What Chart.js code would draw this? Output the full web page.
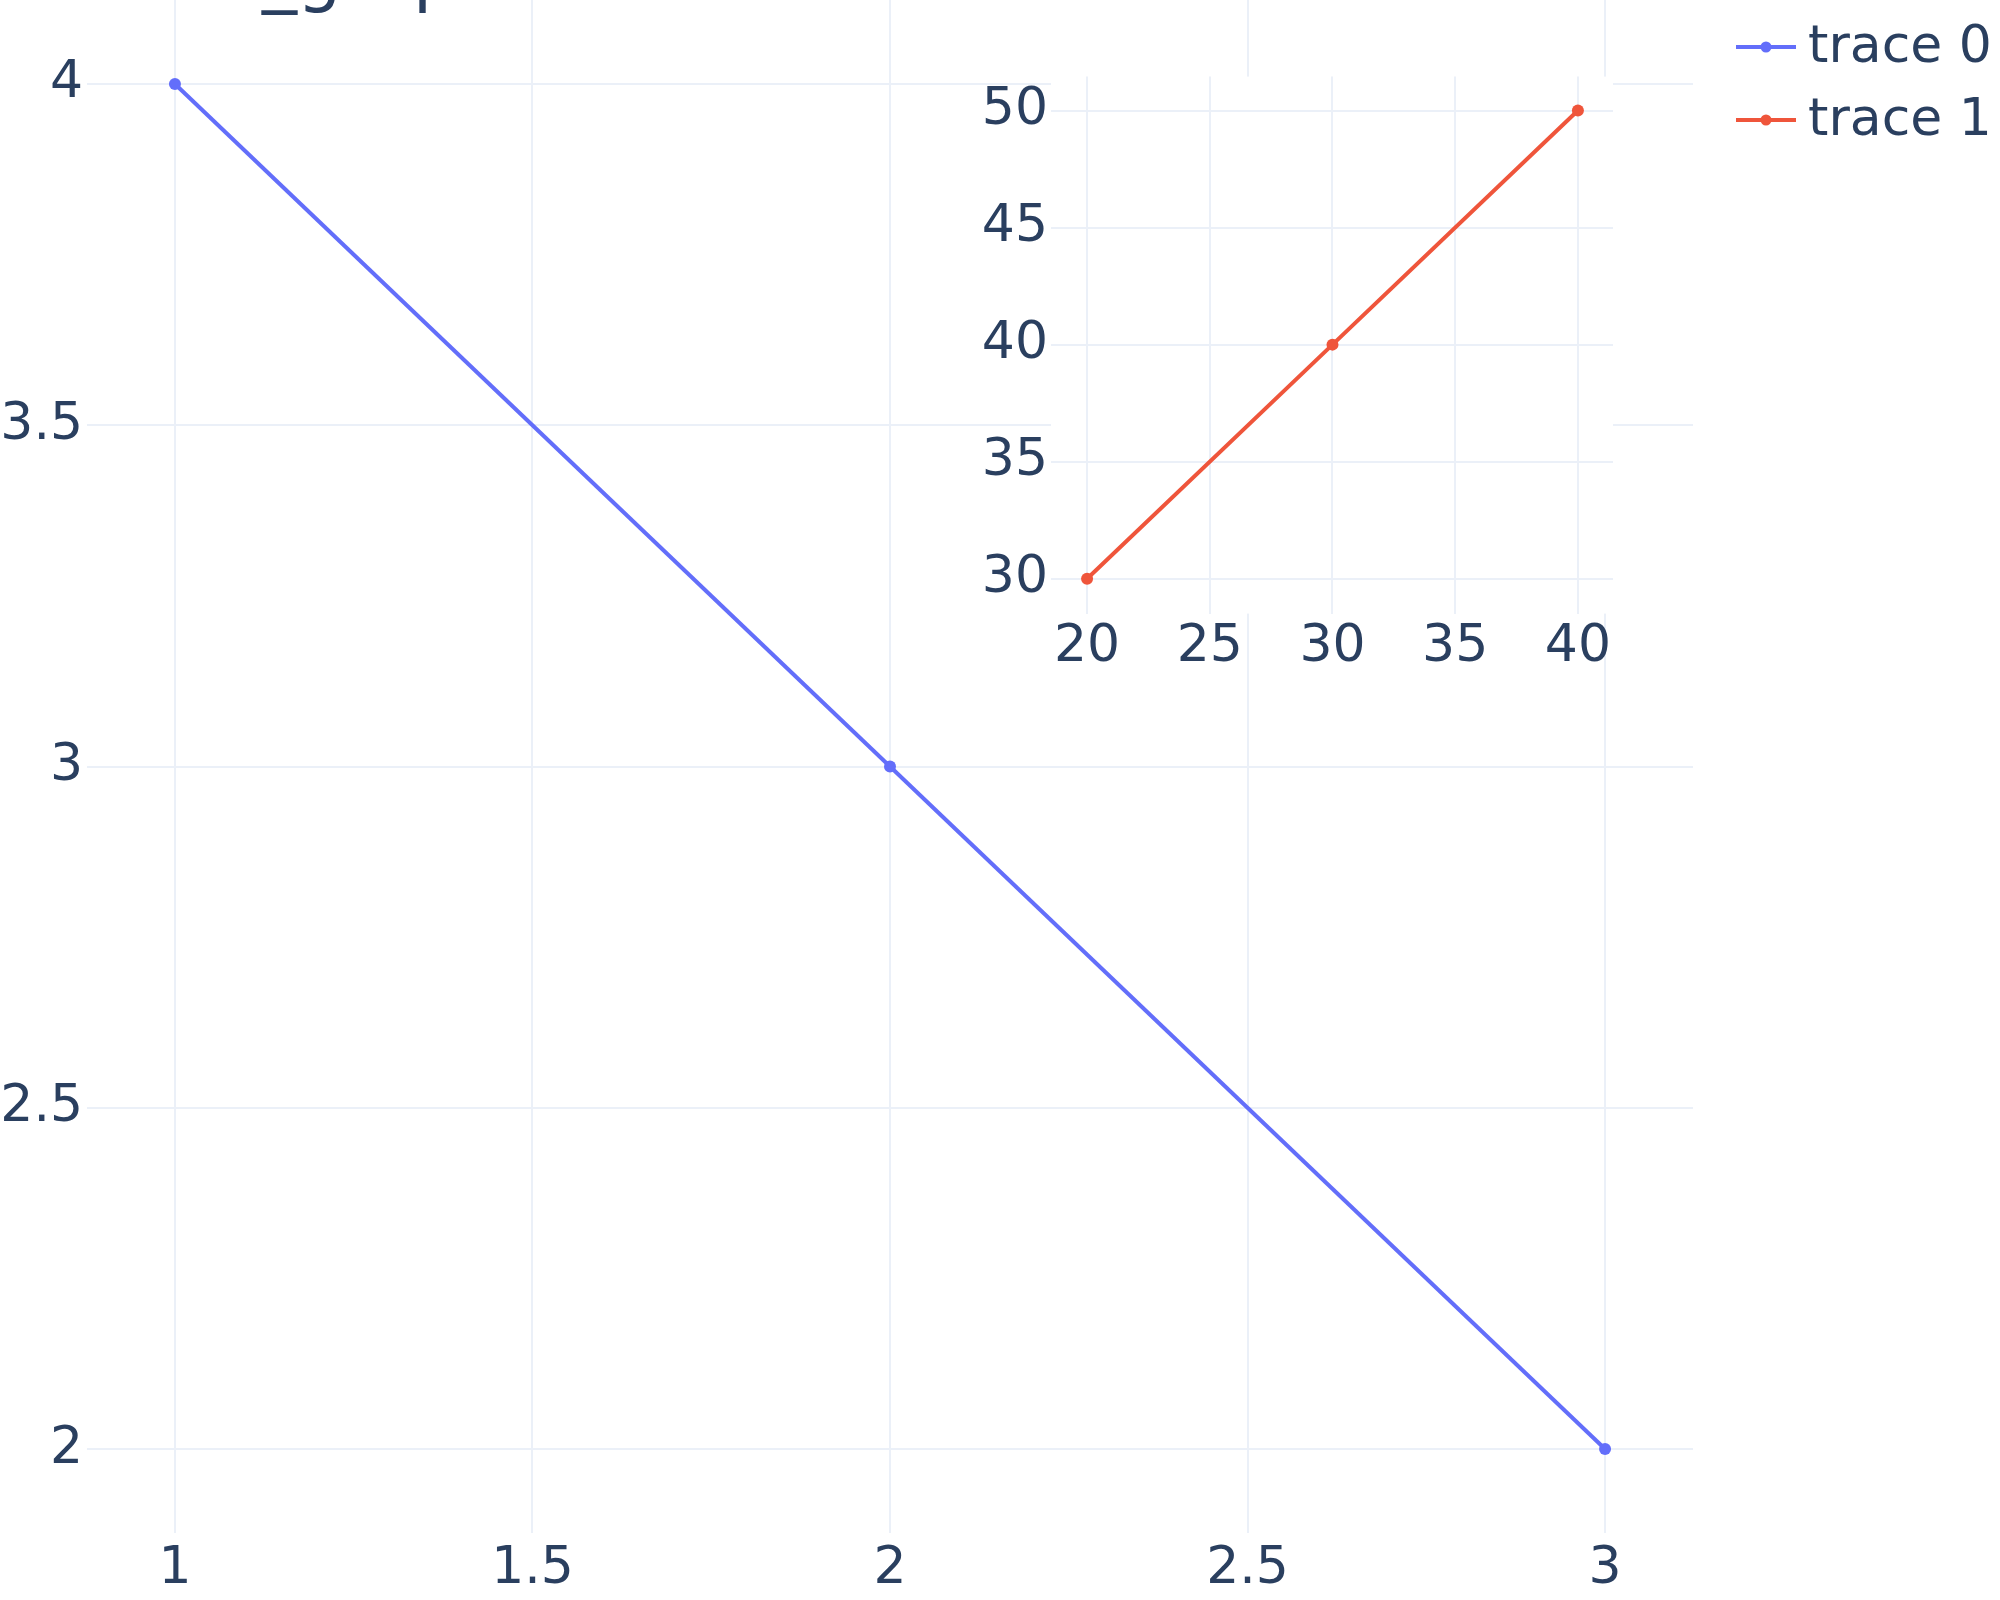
<!DOCTYPE html>
<html>
<head>
<meta charset="utf-8">
<script src="https://cdn.jsdelivr.net/npm/chart.js@4"></script>
<style>
  html, body { margin: 0; padding: 0; background: #fff; }
  #wrap { position: relative; width: 2000px; height: 1600px; overflow: hidden; }
  #mainChart { position: absolute; left: 0; top: 0; }
  #insetChart { position: absolute; left: 960px; top: 60px; }
</style>
</head>
<body>
<div id="wrap">
  <canvas id="mainChart" width="2000" height="1600"></canvas>
  <canvas id="insetChart" width="700" height="620"></canvas>
</div>
<script>
// data
const titleText = "Inset_graph";
const traceNames = ["trace 0", "trace 1"];
const traceColors = ["#636efa", "#ef553b"];

const trace0X = [1, 2, 3];
const trace0Y = [4, 3, 2];
const trace1X = [20, 30, 40];
const trace1Y = [30, 40, 50];

const mainXTicks = [1, 1.5, 2, 2.5, 3];
const mainYTicks = [2, 2.5, 3, 3.5, 4];
const insetXTicks = [20, 25, 30, 35, 40];
const insetYTicks = [30, 35, 40, 45, 50];

const gridColor = "#ebf0f8";
const textColor = "#2a3f5f";

Chart.defaults.font.family = "'DejaVu Sans', Verdana, sans-serif";
Chart.defaults.font.size = 52;
Chart.defaults.color = textColor;

const toPoints = (xs, ys) => xs.map((x, i) => ({ x: x, y: ys[i] }));

// shared axis builder
const makeAxis = (min, max, ticks, pad, fitFn) => ({
  type: "linear",
  min: min,
  max: max,
  border: { display: false },
  grid: { color: gridColor, lineWidth: 2, drawTicks: false },
  ticks: {
    padding: pad,
    includeBounds: false,
    callback: (v) => `${v}`,
  },
  afterBuildTicks: (axis) => {
    axis.ticks = ticks.map((v) => ({ value: v }));
  },
  afterFit: fitFn,
});

const lineDataset = (idx, xs, ys) => ({
  label: traceNames[idx],
  data: toPoints(xs, ys),
  borderColor: traceColors[idx],
  backgroundColor: traceColors[idx],
  borderWidth: 4,
  pointRadius: 6,
  pointBorderWidth: 0,
  tension: 0,
  fill: false,
  clip: false,
});

// title + legend drawn on the main canvas
const decorPlugin = {
  id: "decor",
  afterDraw(chart) {
    const ctx = chart.ctx;
    ctx.save();
    ctx.fillStyle = textColor;
    ctx.font = "70px 'DejaVu Sans'";
    ctx.textBaseline = "alphabetic";
    ctx.textAlign = "left";
    // title sits mostly above the page; only the lowest strokes show
    const m = ctx.measureText(titleText);
    ctx.fillText(titleText, 90, 15 - m.actualBoundingBoxDescent);

    const rows = [47, 120];
    traceNames.forEach((name, i) => {
      const y = rows[i];
      ctx.strokeStyle = traceColors[i];
      ctx.lineWidth = 4;
      ctx.beginPath();
      ctx.moveTo(1736, y);
      ctx.lineTo(1796, y);
      ctx.stroke();
      ctx.fillStyle = traceColors[i];
      ctx.beginPath();
      ctx.arc(1766, y, 5.5, 0, Math.PI * 2);
      ctx.fill();
      ctx.fillStyle = textColor;
      ctx.font = "52px 'DejaVu Sans'";
      ctx.textBaseline = "middle";
      ctx.fillText(name, 1808, y + 1);
    });
    ctx.restore();
  },
};

// white plot background for the inset only
const plotBgPlugin = {
  id: "plotBg",
  beforeDraw(chart) {
    const a = chart.chartArea;
    chart.ctx.save();
    chart.ctx.fillStyle = "#ffffff";
    chart.ctx.fillRect(a.left, a.top, a.right - a.left, a.bottom - a.top);
    chart.ctx.restore();
  },
};

const mainChart = new Chart(document.getElementById("mainChart"), {
  type: "line",
  data: { datasets: [lineDataset(0, trace0X, trace0Y)] },
  options: {
    responsive: false,
    animation: false,
    devicePixelRatio: 1,
    layout: { autoPadding: false, padding: { left: 0, top: 0, right: 307, bottom: 0 } },
    plugins: { legend: { display: false }, tooltip: { enabled: false } },
    scales: {
      x: makeAxis(0.877, 3.123, mainXTicks, 5, (s) => {
        s.height = 67;
        s.paddingLeft = 0;
        s.paddingRight = 0;
      }),
      y: makeAxis(1.877, 4.123, mainYTicks, 4, (s) => {
        s.width = 87;
        s.paddingTop = 0;
        s.paddingBottom = 0;
      }),
    },
  },
  plugins: [decorPlugin],
});

const insetChart = new Chart(document.getElementById("insetChart"), {
  type: "line",
  data: { datasets: [lineDataset(1, trace1X, trace1Y)] },
  options: {
    responsive: false,
    animation: false,
    devicePixelRatio: 1,
    layout: { autoPadding: false, padding: { left: 0, top: 16.6, right: 47, bottom: 0 } },
    plugins: { legend: { display: false }, tooltip: { enabled: false } },
    scales: {
      x: makeAxis(18.53, 41.43, insetXTicks, 3, (s) => {
        s.height = 66.4;
        s.paddingLeft = 0;
        s.paddingRight = 0;
      }),
      y: makeAxis(28.51, 51.45, insetYTicks, 3, (s) => {
        s.width = 91;
        s.paddingTop = 0;
        s.paddingBottom = 0;
      }),
    },
  },
  plugins: [plotBgPlugin],
});
</script>
</body>
</html>
